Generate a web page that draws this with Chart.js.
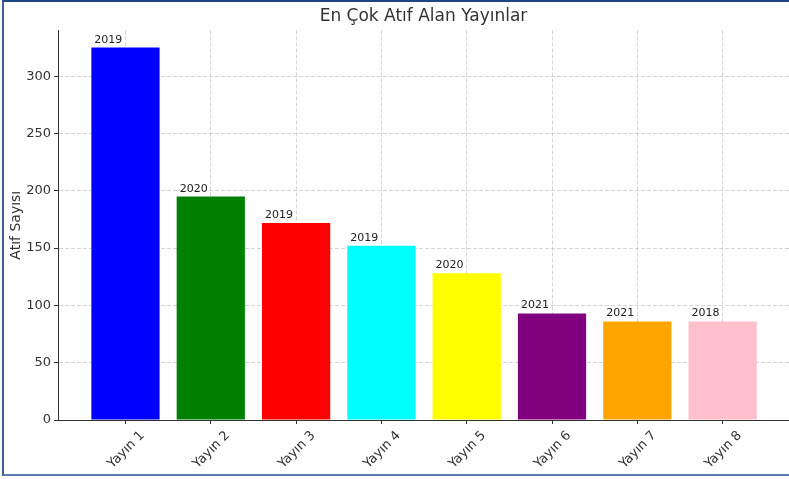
<!DOCTYPE html>
<html>
<head>
<meta charset="utf-8">
<script src="https://cdn.jsdelivr.net/npm/chart.js@4"></script>
<style>
  html, body { margin: 0; padding: 0; background: #fff; overflow: hidden; }
  #wrap { position: relative; width: 789px; height: 479px; }
  #frame { position: absolute; left: 2px; top: 0; width: 790px; height: 476px;
           border-top: 2px solid #1f4580; border-left: 2px solid #3d6096; border-bottom: 2px solid #5a7fb0;
           box-sizing: border-box; pointer-events: none; }
</style>
</head>
<body>
<div id="wrap">
  <canvas id="chart" width="789" height="479"></canvas>
  <div id="frame"></div>
</div>
<script>
// --- Data ---
const labels = ['Yayın 1', 'Yayın 2', 'Yayın 3', 'Yayın 4', 'Yayın 5', 'Yayın 6', 'Yayın 7', 'Yayın 8'];
const citations = [325, 195, 172, 152, 128, 93, 86, 86];
const years = ['2019', '2020', '2019', '2019', '2020', '2021', '2021', '2018'];
const barColors = ['#0000ff', '#008000', '#ff0000', '#00ffff', '#ffff00', '#800080', '#ffa500', '#ffc0cb'];
const yTicks = [0, 50, 100, 150, 200, 250, 300];

const FONT = "'DejaVu Sans', sans-serif";
const gridColor = 'rgba(185,185,185,0.6)';

// year labels above each bar, left aligned with the bar
const yearLabels = {
    id: 'yearLabels',
    afterDatasetsDraw(chart) {
        const ctx = chart.ctx;
        const meta = chart.getDatasetMeta(0);
        ctx.save();
        ctx.font = '11px ' + FONT;
        ctx.fillStyle = '#222';
        ctx.textAlign = 'left';
        ctx.textBaseline = 'alphabetic';
        meta.data.forEach((bar, i) => {
            const left = bar.x - bar.width / 2;
            ctx.fillText(years[i], left + 3, bar.y - 5);
        });
        ctx.restore();
    }
};

new Chart(document.getElementById('chart'), {
    type: 'bar',
    data: {
        datasets: [{
            data: citations.map((v, i) => ({ x: i, y: v })),
            backgroundColor: barColors,
            borderWidth: 0,
            categoryPercentage: 1,
            barPercentage: 0.8
        }]
    },
    options: {
        responsive: false,
        animation: false,
        events: [],
        layout: { padding: { left: 0, right: 0, top: 0, bottom: 0 } },
        plugins: {
            legend: { display: false },
            tooltip: { enabled: false },
            title: {
                display: true, text: 'En Çok Atıf Alan Yayınlar', fullSize: false,
                color: '#333', font: { family: FONT, size: 17, weight: 'normal' },
                padding: { top: 6, bottom: 4 }
            }
        },
        scales: {
            x: {
                type: 'linear', min: -0.791, max: 7.778, z: 1, offset: false,
                afterBuildTicks: (axis) => { axis.ticks = labels.map((_, i) => ({ value: i })); },
                afterFit: (axis) => { axis.height = 59; },
                grid: { offset: false, color: gridColor, tickColor: '#333', tickLength: 4, tickBorderDash: [] },
                border: { display: true, color: '#333', width: 1, dash: [4, 2] },
                ticks: {
                    autoSkip: false, minRotation: 45, maxRotation: 45, labelOffset: 17, padding: 4,
                    color: '#333', font: { family: FONT, size: 13 },
                    callback: (v) => labels[v]
                }
            },
            y: {
                min: 0, max: 340, z: 1,
                afterBuildTicks: (axis) => { axis.ticks = yTicks.map(v => ({ value: v })); },
                afterFit: (axis) => { axis.width = 58; },
                grid: { color: gridColor, tickColor: '#333', tickLength: 4, tickBorderDash: [] },
                border: { display: true, color: '#333', width: 1, dash: [4, 2] },
                ticks: { color: '#333', padding: 3, font: { family: FONT, size: 13 } },
                title: {
                    display: true, text: 'Atıf Sayısı', color: '#333',
                    font: { family: FONT, size: 14 }, padding: { top: 8, bottom: 0 }
                }
            }
        }
    },
    plugins: [yearLabels]
});
</script>
</body>
</html>
